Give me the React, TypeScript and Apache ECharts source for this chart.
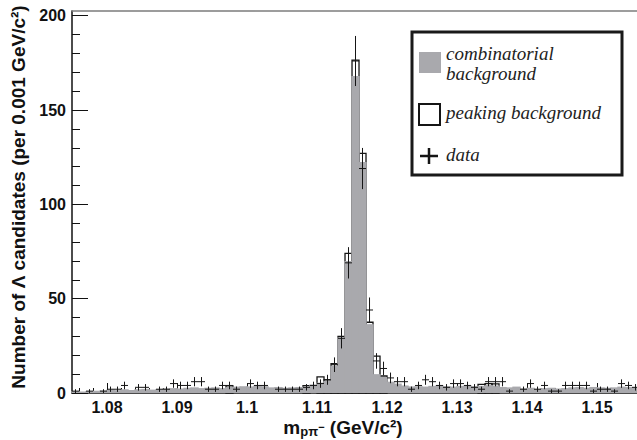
import React, { useEffect, useRef } from 'react';
import * as echarts from 'echarts';

// ---- data ----
const binStart = 1.075;
const binWidth = 0.001;
const dataCounts = [
  1, 0, 1, 0, 1, 2, 2, 4, 0, 3, 3, 0, 2, 2, 5, 4, 4, 6, 6, 2,
  2, 4, 4, 2, 0, 5, 4, 4, 0, 2, 2, 2, 2, 3, 4, 5, 7, 15, 29, 69,
  176, 119, 44, 17, 13, 8, 6, 6, 2, 4, 7, 6, 4, 3, 5, 5, 4, 3, 2, 6,
  6, 6, 1, 0, 2, 5, 2, 4, 1, 1, 4, 4, 4, 4, 1, 2, 2, 1, 5, 4, 3,
];
const combinatorial = [
  1, 0.8, 1, 1.2, 1.3, 1.8, 1.5, 2, 1.6, 2, 2.2, 1.8, 2, 2.4, 2.6, 2.4, 2.8,
  3, 2.6, 2.8, 3, 2.6, 3.2, 3.4, 3.6, 3.5, 4, 3.6, 3, 3.2, 2.8, 3, 3.2, 3.4,
  4.5, 5.5, 6.5, 14.5, 29.5, 70, 168, 122.5, 36.5, 10, 8.5, 6, 5, 4, 3.5,
  3.6, 3.4, 3.8, 4, 3.6, 3.4, 3.8, 4, 3.6, 3.8, 4.2, 4, 3.2, 3, 3.4,
  2.4, 2.8, 2.2, 2.6, 2.8, 2.4, 2.6, 3, 3.2, 2.8, 3.2, 3, 2.8, 3, 3.4, 3.2, 3,
];
const peaking = [
  0, 0, 0, 0, 0, 0, 0, 0, 0, 0, 0, 0, 0, 0, 0, 0, 0, 0, 0, 0,
  0, 0, 0.6, 0, 0, 0, 0, 0, 0, 0, 0, 0, 0, 0.5, 0, 3, 0.5, 1, 0.5, 4,
  8.5, 4.5, 1, 9.5, 0.5, 0, 0, 0, 0, 0, 0, 0, 0, 0, 0, 0, 0, 0, 0.8, 0.8,
  0.8, 0, 0, 0, 0, 0, 0, 0, 0, 0, 0, 0, 0, 0, 0, 0, 0, 0, 0, 0, 0,
];
const xTickLabels = [1.08, 1.09, 1.1, 1.11, 1.12, 1.13, 1.14, 1.15];
const yTickLabels = [0, 50, 100, 150, 200];
const yMinorTicks = [10, 20, 30, 40, 60, 70, 80, 90, 110, 120, 130, 140, 160, 170, 180, 190];
const xMin = 1.075;
const xMax = 1.15571;
const yMax = 202.5;

const FONT = 'Liberation Sans, Arial, Helvetica, sans-serif';
const SERIF = 'Liberation Serif, Times New Roman, serif';
const GREY = '#a9a9ad';

export default function App() {
  const ref = useRef<HTMLDivElement>(null);
  useEffect(() => {
    if (!ref.current) return;
    const chart = echarts.init(ref.current, undefined, { renderer: 'svg' });

    const bins = dataCounts.map((_, k) => {
      const x0 = Math.round((binStart + k * binWidth) * 1e6) / 1e6;
      const x1 = Math.round((binStart + (k + 1) * binWidth) * 1e6) / 1e6;
      return { x0, x1 };
    });
    const greyData = bins.map((b, k) => [b.x0, b.x1, combinatorial[k]]);
    const outlineData = bins
      .map((b, k) => [b.x0, b.x1, combinatorial[k] + peaking[k], peaking[k]])
      .filter((d) => d[3] > 0.2);
    const pointData = bins
      .map((b, k) => [b.x0, b.x1, dataCounts[k]])
      .filter((d) => d[2] > 0);

    const minorX: number[] = [];
    for (let i = 0; i < 45; i++) {
      const v = Math.round((1.076 + 0.002 * i) * 1000) / 1000;
      if (v < xMax && !xTickLabels.some((t) => Math.abs(t - v) < 1e-6)) minorX.push(v);
    }

    const option: any = {
      animation: false,
      backgroundColor: '#ffffff',
      grid: { left: 72, right: 0, top: 11, bottom: 47, containLabel: false },
      xAxis: [
        {
          type: 'value', min: xMin, max: xMax, position: 'bottom',
          axisLine: { show: true, lineStyle: { color: '#111', width: 1.5 } },
          axisTick: { show: true, inside: true, length: 10, customValues: xTickLabels, lineStyle: { color: '#111', width: 1 } },
          axisLabel: {
            show: true, customValues: xTickLabels, margin: 6,
            formatter: (v: number) => String(Math.round(v * 1000) / 1000),
            fontFamily: FONT, fontWeight: 'bold', fontSize: 16, color: '#111',
          },
          splitLine: { show: false },
        },
        {
          type: 'value', min: xMin, max: xMax, position: 'bottom',
          axisLine: { show: false },
          axisTick: { show: true, inside: true, length: 5, customValues: minorX, lineStyle: { color: '#111', width: 1 } },
          axisLabel: { show: false },
          splitLine: { show: false },
        },
        {
          type: 'value', min: xMin, max: xMax, position: 'top',
          axisLine: { show: true, lineStyle: { color: '#7c7c7c', width: 1.5 } },
          axisTick: { show: false }, axisLabel: { show: false }, splitLine: { show: false },
        },
      ],
      yAxis: [
        {
          type: 'value', min: 0, max: yMax, position: 'left',
          axisLine: { show: true, lineStyle: { color: '#111', width: 1.5 } },
          axisTick: { show: true, inside: true, length: 16, customValues: yTickLabels, lineStyle: { color: '#111', width: 1 } },
          axisLabel: {
            show: true, customValues: yTickLabels, margin: 6,
            fontFamily: FONT, fontWeight: 'bold', fontSize: 16, color: '#111',
          },
          splitLine: { show: false },
        },
        {
          type: 'value', min: 0, max: yMax, position: 'left',
          axisLine: { show: false },
          axisTick: { show: true, inside: true, length: 8, customValues: yMinorTicks, lineStyle: { color: '#111', width: 1 } },
          axisLabel: { show: false }, splitLine: { show: false },
        },
      ],
      series: [
        {
          type: 'custom', name: 'peaking background', xAxisIndex: 0, yAxisIndex: 0, z: 2,
          encode: { x: [0, 1], y: 2 },
          data: outlineData,
          renderItem: (params: any, api: any) => {
            const p0 = api.coord([api.value(0), api.value(2)]);
            const p1 = api.coord([api.value(1), 0]);
            return {
              type: 'rect',
              shape: { x: p0[0], y: p0[1], width: p1[0] - p0[0], height: p1[1] - p0[1] },
              style: { fill: 'none', stroke: '#151515', lineWidth: 1.3 },
            };
          },
        },
        {
          type: 'custom', name: 'combinatorial background', xAxisIndex: 0, yAxisIndex: 0, z: 3,
          encode: { x: [0, 1], y: 2 },
          data: greyData,
          renderItem: (params: any, api: any) => {
            const p0 = api.coord([api.value(0), api.value(2)]);
            const p1 = api.coord([api.value(1), 0]);
            return {
              type: 'rect',
              shape: { x: p0[0] - 0.7, y: p0[1], width: p1[0] - p0[0] + 1.4, height: p1[1] - p0[1] },
              style: { fill: GREY, stroke: 'none' },
            };
          },
        },
        {
          type: 'custom', name: 'data', xAxisIndex: 0, yAxisIndex: 0, z: 4,
          encode: { x: [0, 1], y: 2 },
          data: pointData,
          renderItem: (params: any, api: any) => {
            const x0 = api.value(0);
            const x1 = api.value(1);
            const v = api.value(2);
            const e = Math.sqrt(v);
            const xc = (x0 + x1) / 2;
            const l = api.coord([x0, v]);
            const r = api.coord([x1, v]);
            const t = api.coord([xc, v + e]);
            const b = api.coord([xc, Math.max(0, v - e)]);
            const st = { stroke: '#151515', lineWidth: 1 };
            return {
              type: 'group',
              children: [
                { type: 'line', shape: { x1: l[0], y1: l[1], x2: r[0], y2: r[1] }, style: st },
                { type: 'line', shape: { x1: t[0], y1: t[1], x2: b[0], y2: b[1] }, style: st },
              ],
            };
          },
        },
      ],
      graphic: [
        {
          type: 'text', x: 18, y: 197, rotation: Math.PI / 2, z: 10,
          style: {
            text: 'Number of Λ candidates (per 0.001 GeV/c²)',
            fontFamily: FONT, fontWeight: 'bold', fontSize: 19, fill: '#111',
            align: 'center', verticalAlign: 'middle',
          },
        },
        {
          type: 'text', x: 343, y: 427, z: 10,
          style: {
            text: '{m|m}{s|pπ}{u|−}{m| (GeV/c²)}',
            align: 'center', verticalAlign: 'middle', fill: '#111',
            rich: {
              m: { fontFamily: FONT, fontWeight: 'bold', fontSize: 19, lineHeight: 22, fill: '#111' },
              s: { fontFamily: FONT, fontWeight: 'bold', fontSize: 13, lineHeight: 22, verticalAlign: 'bottom', fill: '#111' },
              u: { fontFamily: FONT, fontWeight: 'bold', fontSize: 11, lineHeight: 22, verticalAlign: 'middle', fill: '#111' },
            },
          },
        },
        {
          type: 'rect', z: 10,
          shape: { x: 412, y: 32, width: 210, height: 143 },
          style: { fill: '#ffffff', stroke: '#1a1a1a', lineWidth: 3 },
        },
        {
          type: 'rect', z: 11,
          shape: { x: 419, y: 52, width: 22, height: 21 },
          style: { fill: GREY },
        },
        {
          type: 'rect', z: 11,
          shape: { x: 419, y: 104, width: 21, height: 21 },
          style: { fill: 'none', stroke: '#151515', lineWidth: 2 },
        },
        {
          type: 'line', z: 11,
          shape: { x1: 420, y1: 156, x2: 438, y2: 156 },
          style: { stroke: '#151515', lineWidth: 2.5 },
        },
        {
          type: 'line', z: 11,
          shape: { x1: 429, y1: 148, x2: 429, y2: 164 },
          style: { stroke: '#151515', lineWidth: 2.5 },
        },
        {
          type: 'text', z: 11, x: 446, y: 53,
          style: { text: 'combinatorial', fontFamily: SERIF, fontStyle: 'italic', fontSize: 19, fill: '#222', verticalAlign: 'middle' },
        },
        {
          type: 'text', z: 11, x: 446, y: 73,
          style: { text: 'background', fontFamily: SERIF, fontStyle: 'italic', fontSize: 19, fill: '#222', verticalAlign: 'middle' },
        },
        {
          type: 'text', z: 11, x: 446, y: 112,
          style: { text: 'peaking background', fontFamily: SERIF, fontStyle: 'italic', fontSize: 19, fill: '#222', verticalAlign: 'middle' },
        },
        {
          type: 'text', z: 11, x: 446, y: 154,
          style: { text: 'data', fontFamily: SERIF, fontStyle: 'italic', fontSize: 19, fill: '#222', verticalAlign: 'middle' },
        },
      ],
    };
    chart.setOption(option);
    return () => chart.dispose();
  }, []);

  return (
    <div
      ref={ref}
      style={{ position: 'fixed', left: 0, top: 0, width: 637, height: 440, background: '#fff' }}
    />
  );
}
